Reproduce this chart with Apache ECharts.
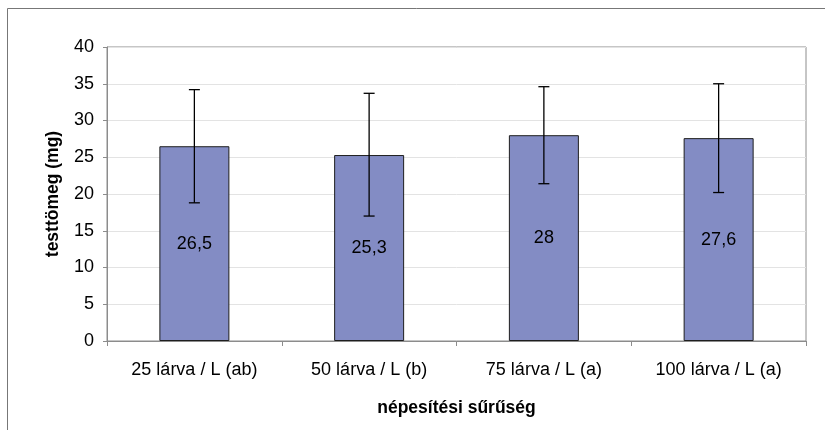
<!DOCTYPE html>
<html>
<head>
<meta charset="utf-8">
<script src="https://cdn.jsdelivr.net/npm/echarts@6/dist/echarts.min.js"></script>
<style>html,body{margin:0;padding:0;background:#fff;}#c{width:825px;height:430px;}</style>
</head>
<body>
<div id="c"></div>
<script>
const categories = ['25 lárva / L (ab)', '50 lárva / L (b)', '75 lárva / L (a)', '100 lárva / L (a)'];
const means = [26.5, 25.3, 28, 27.6];
const errLow = [18.8, 17.0, 21.4, 20.2];
const errHigh = [34.2, 33.7, 34.6, 35.0];
const labels = ['26,5', '25,3', '28', '27,6'];

const chart = echarts.init(document.getElementById('c'));
const font = 'Liberation Sans, Arial, sans-serif';
chart.setOption({
  animation: false,
  textStyle: { fontFamily: font },
  graphic: [{
    type: 'rect', shape: { x: 7.5, y: 8.5, width: 830, height: 440 },
    style: { fill: 'none', stroke: '#777', lineWidth: 1 }, silent: true, z: -1
  }],
  grid: { left: 107, right: 19, top: 47, bottom: 89, show: true, borderColor: '#8c8c8c', borderWidth: 1, backgroundColor: '#fff' },
  xAxis: {
    type: 'category', data: categories,
    name: 'népesítési sűrűség', nameLocation: 'middle', nameGap: 58,
    nameTextStyle: { fontSize: 17.5, fontWeight: 'bold', color: '#000', fontFamily: font },
    axisLine: { lineStyle: { color: '#8c8c8c' } },
    axisTick: { show: true, length: 5, lineStyle: { color: '#8c8c8c' } },
    axisLabel: { fontSize: 18, color: '#000', margin: 20, fontFamily: font }
  },
  yAxis: {
    type: 'value', min: 0, max: 40, interval: 5,
    name: 'testtömeg (mg)', nameLocation: 'middle', nameGap: 45,
    nameTextStyle: { fontSize: 17.5, fontWeight: 'bold', color: '#000', fontFamily: font },
    axisLine: { show: true, lineStyle: { color: '#8c8c8c' } },
    axisTick: { show: true, length: 4, lineStyle: { color: '#8c8c8c' } },
    axisLabel: { fontSize: 18, color: '#000', margin: 13, fontFamily: font },
    splitLine: { lineStyle: { color: '#e3e3e3' } }
  },
  series: [{
    type: 'bar', data: means, barWidth: 70,
    itemStyle: { color: '#838cc4', borderColor: '#1e1e1e', borderWidth: 1 },
    label: { show: true, position: 'inside', color: '#000', fontSize: 18, fontFamily: font,
      formatter: p => labels[p.dataIndex] }
  }, {
    type: 'custom',
    data: categories.map((c, i) => [i, errLow[i], errHigh[i]]),
    z: 10,
    renderItem: function (params, api) {
      const x = api.value(0);
      const lo = api.coord([x, api.value(1)]);
      const hi = api.coord([x, api.value(2)]);
      const hw = 5.5;
      const st = { stroke: '#000', lineWidth: 1.3 };
      return { type: 'group', children: [
        { type: 'line', shape: { x1: lo[0], y1: lo[1], x2: hi[0], y2: hi[1] }, style: st },
        { type: 'line', shape: { x1: lo[0] - hw, y1: lo[1], x2: lo[0] + hw, y2: lo[1] }, style: st },
        { type: 'line', shape: { x1: hi[0] - hw, y1: hi[1], x2: hi[0] + hw, y2: hi[1] }, style: st }
      ] };
    }
  }]
});
</script>
</body>
</html>
